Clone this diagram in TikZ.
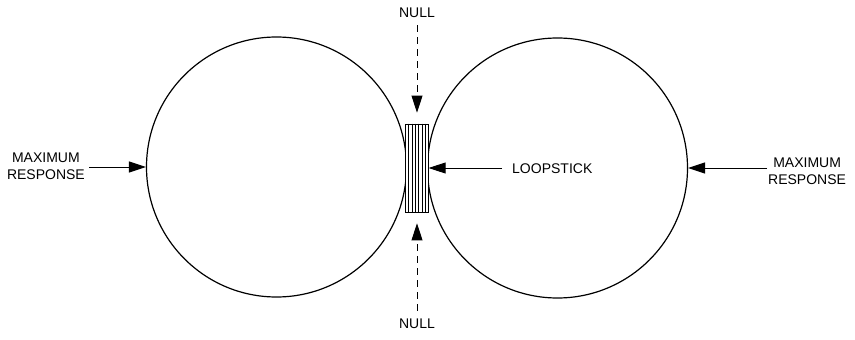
\documentclass[tikz,border=0pt]{standalone}
\usepackage{fontspec}
\setmainfont{Liberation Sans}
\usetikzlibrary{arrows.meta, positioning, calc}
\tikzset{
    lobo/.style={draw=black, circle, line width=1.2pt, minimum size=260pt, inner sep=0pt},
    rotulo/.style={font=\fontsize{14}{17}\selectfont, align=center, inner sep=1pt},
    seta/.style={-{Triangle[length=17pt, width=11pt]}, line width=0.9pt},
    nulo/.style={seta, dash pattern=on 7pt off 5pt}
}

\begin{document}
\begin{tikzpicture}[x=1pt, y=-1pt]
    \useasboundingbox (0,0) rectangle (855,340);

    % Lobos de recepcao
    \node[lobo] (loboE) at (276.5,167) {};
    \node[lobo] (loboD) at (557.5,168) {};

    % Bastao de ferrite (loopstick)
    \node[draw, fill=white, line width=0.8pt, minimum width=22.5pt, minimum height=88pt, inner sep=0pt] (bastao) at (417,168) {};
    \foreach \i in {1,...,6}
        \draw[line width=0.6pt] ($(bastao.north west)!\i/7!(bastao.north east)$) -- ($(bastao.south west)!\i/7!(bastao.south east)$);

    % Resposta maxima
    \node[rotulo, anchor=east] (maxE) at (86,166) {MAXIMUM\\RESPONSE};
    \node[rotulo, anchor=west] (maxD) at (767,171) {MAXIMUM\\RESPONSE};
    \draw[seta, shorten <=3pt] (maxE.east |- loboE.west) -- (loboE.west);
    \draw[seta] (maxD.west |- loboD.east) -- (loboD.east);

    % Rotulo do bastao
    \node[rotulo, anchor=west] (lblB) at (511,169) {LOOPSTICK};
    \draw[seta, shorten <=9pt] (lblB.west |- bastao.east) -- (bastao.east);

    % Nulos (tracejado)
    \node[rotulo] (nuloC) at (417,13) {NULL};
    \node[rotulo] (nuloB) at (417,324) {NULL};
    \draw[nulo, shorten <=6pt, shorten >=11pt] (nuloC.south) -- (bastao.north);
    \draw[nulo, shorten <=7pt, shorten >=11pt] (nuloB.north) -- (bastao.south);
\end{tikzpicture}
\end{document}
